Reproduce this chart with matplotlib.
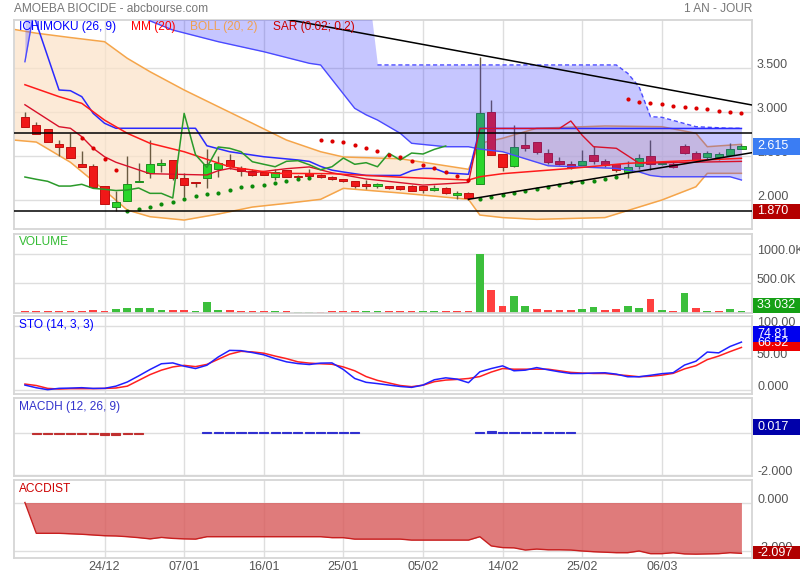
import numpy as np
import matplotlib
matplotlib.use("Agg")
import matplotlib.pyplot as plt
from matplotlib.patches import Rectangle

plt.rcParams['font.family'] = ['Liberation Sans', 'DejaVu Sans']

# ---------------- data ----------------
title = "AMOEBA BIOCIDE - abcbourse.com"
period = "1 AN - JOUR"
date_labels = ['24/12', '07/01', '16/01', '25/01', '05/02', '14/02', '25/02', '06/03']
date_pos = [7, 14, 21, 28, 35, 42, 49, 56]

opens = [2.942, 2.851, 2.805, 2.638, 2.600, 2.410, 2.387, 2.159, 1.917, 1.985,
         2.205, 2.304, 2.402, 2.452, 2.247, 2.205, 2.247, 2.350, 2.452, 2.364,
         2.334, 2.315, 2.262, 2.342, 2.277, 2.304, 2.285, 2.262, 2.239, 2.213,
         2.179, 2.159, 2.159, 2.159, 2.163, 2.154, 2.116, 2.142, 2.055, 2.083,
         2.179, 3.002, 2.524, 2.391, 2.626, 2.661, 2.532, 2.441, 2.410, 2.402,
         2.513, 2.448, 2.410, 2.322, 2.387, 2.501, 2.410, 2.410, 2.618, 2.532,
         2.493, 2.486, 2.513, 2.585]
highs = [2.999, 2.888, 2.805, 2.683, 2.760, 2.558, 2.410, 2.159, 2.106, 2.501,
         2.425, 2.683, 2.464, 2.452, 2.304, 2.205, 2.581, 2.501, 2.524, 2.391,
         2.350, 2.330, 2.350, 2.342, 2.290, 2.350, 2.300, 2.270, 2.245, 2.213,
         2.230, 2.190, 2.165, 2.165, 2.170, 2.160, 2.167, 2.150, 2.106, 2.090,
         3.625, 3.139, 2.524, 2.854, 2.760, 2.661, 2.580, 2.490, 2.440, 2.569,
         2.618, 2.470, 2.410, 2.444, 2.520, 2.683, 2.440, 2.440, 2.640, 2.560,
         2.560, 2.550, 2.653, 2.640]
lows = [2.828, 2.748, 2.657, 2.501, 2.482, 2.379, 2.151, 1.951, 1.878, 1.985,
        2.205, 2.247, 2.322, 2.228, 2.038, 2.151, 2.133, 2.265, 2.350, 2.277,
        2.277, 2.280, 2.230, 2.262, 2.250, 2.273, 2.255, 2.230, 2.205, 2.133,
        2.130, 2.140, 2.125, 2.115, 2.100, 2.076, 2.103, 2.070, 2.015, 2.005,
        2.179, 2.516, 2.334, 2.380, 2.561, 2.524, 2.410, 2.400, 2.350, 2.402,
        2.410, 2.380, 2.315, 2.254, 2.350, 2.342, 2.395, 2.370, 2.520, 2.440,
        2.470, 2.460, 2.501, 2.580]
closes = [2.828, 2.748, 2.657, 2.600, 2.482, 2.379, 2.151, 1.951, 1.977, 2.182,
          2.215, 2.410, 2.421, 2.247, 2.167, 2.190, 2.410, 2.418, 2.391, 2.334,
          2.288, 2.288, 2.315, 2.262, 2.259, 2.273, 2.262, 2.236, 2.213, 2.159,
          2.159, 2.179, 2.133, 2.122, 2.108, 2.114, 2.137, 2.076, 2.076, 2.023,
          2.987, 2.516, 2.372, 2.604, 2.589, 2.550, 2.436, 2.407, 2.379, 2.441,
          2.448, 2.402, 2.345, 2.379, 2.478, 2.407, 2.425, 2.379, 2.532, 2.456,
          2.535, 2.524, 2.577, 2.615]

sar = [np.nan] * 5 + [2.710, 2.596, 2.467, 2.342,
       1.878, 1.894, 1.924, 1.951, 1.977, 2.011, 2.042, 2.065, 2.083, 2.114,
       2.145, 2.163, 2.174, 2.194, 2.216, 2.243, 2.251,
       2.683, 2.672, 2.658, 2.623, 2.596, 2.555, 2.516, 2.493, 2.448, 2.402,
       2.364, 2.323, 2.277, 2.228,
       2.008, 2.031, 2.057, 2.076, 2.103, 2.125, 2.151, 2.171, 2.202, 2.208,
       2.216, 2.239, 2.265,
       3.147, 3.120, 3.108, 3.093, 3.074, 3.063, 3.051, 3.036, 3.017, 3.006, 2.994]

mm_x = [0, 3, 5, 7, 9, 11, 14, 16, 18, 20, 22, 27, 33, 39, 40, 42, 48, 53, 63]
mm_y = [3.313, 3.177, 3.101, 2.910, 2.760, 2.646, 2.550, 2.464, 2.379, 2.342, 2.304,
        2.300, 2.260, 2.228, 2.265, 2.300, 2.360, 2.418, 2.475]

boll_x = [-1, 1, 4, 7, 9, 11, 14, 17, 20, 23, 26, 28, 33, 39, 40, 42, 45, 51, 56, 59, 60, 63]
boll_up = [3.944, 3.900, 3.850, 3.803, 3.614, 3.461, 3.253, 3.063, 2.874, 2.683, 2.550,
           2.490, 2.470, 2.350, 2.646, 2.703, 2.817, 2.843, 2.835, 2.760, 2.607, 2.634]
boll_lo = [2.683, 2.660, 2.430, 2.110, 1.886, 1.810, 1.772, 1.840, 1.920, 1.962, 2.008,
           2.133, 2.080, 2.008, 1.829, 1.800, 1.780, 1.800, 2.000, 2.151, 2.304, 2.304]

tenkan_x = [0, 3, 4, 5, 6, 7, 8, 11, 16, 17, 18, 20, 23, 25, 27, 30, 35, 39, 40, 47, 48, 49, 50, 52, 54, 63]
tenkan_y = [3.085, 2.835, 2.817, 2.721, 2.589, 2.493, 2.430, 2.300, 2.285, 2.334, 2.360,
            2.310, 2.357, 2.377, 2.310, 2.240, 2.170, 2.200, 2.815, 2.815, 2.900, 2.737,
            2.607, 2.589, 2.420, 2.440]
kijun_x = [0, 3, 4, 5, 6, 7, 8, 15, 16, 18, 21, 24, 25, 26, 27, 28, 30, 33, 34, 35, 36, 37, 39, 40, 63]
kijun_y = [4.400, 3.253, 3.245, 3.177, 2.987, 2.874, 2.817, 2.817, 2.618, 2.550, 2.493,
           2.456, 2.440, 2.383, 2.340, 2.319, 2.280, 2.280, 2.334, 2.360, 2.360, 2.310,
           2.293, 2.815, 2.815]
cloud_x = [0, 1, 9, 10, 11, 13, 17, 21, 25, 26, 29, 30, 31, 33, 34, 37, 39, 40, 42, 46,
           52, 53, 54, 55, 56, 59, 62, 63]
cloud_top = [4.6, 4.6, 4.6, 4.6, 4.6, 4.6, 4.6, 4.6, 4.6, 4.6, 4.6, 4.6, 3.538, 3.538,
             3.538, 3.538, 3.538, 3.538, 3.538, 3.538, 3.538, 3.443, 3.290, 2.949, 2.942,
             2.835, 2.817, 2.817]
cloud_low = [3.575, 4.300, 4.350, 4.150, 4.040, 3.936, 3.803, 3.689, 3.557, 3.538, 3.044,
             2.970, 2.911, 2.760, 2.646, 2.607, 2.607, 2.580, 2.550, 2.390, 2.360, 2.340,
             2.320, 2.280, 2.265, 2.265, 2.265, 2.228]

h_levels = [2.76, 1.87]
trend_down = ([14, 63.93], [4.272, 3.082])
trend_up = ([39, 63.93], [2.008, 2.539])

volume = [30, 30, 30, 30, 25, 30, 50, 30, 68, 80, 80, 74, 50, 50, 50, 30, 182, 50, 38, 25,
          25, 25, 30, 32, 20, 20, 20, 25, 32, 32, 25, 25, 32, 25, 32, 30, 25, 25, 25, 32,
          1000, 381, 114, 284, 114, 63, 50, 38, 38, 68, 91, 38, 63, 114, 80, 233, 50, 32, 335, 80,
          30, 30, 63, 33.032]
vol_up = [0, 0, 0, 0, 0, 0, 0, 0, 1, 1, 1, 1, 1, 0, 0, 1, 1, 1, 0, 0,
          0, 0, 1, 0, 1, 1, 0, 0, 0, 0, 1, 1, 0, 0, 0, 1, 1, 0, 0, 0,
          1, 0, 0, 1, 1, 0, 0, 0, 0, 1, 1, 0, 0, 1, 1, 0, 1, 0, 1, 0,
          1, 0, 1, 1]

sto_k = [7.7, 3.5, 0.5, 2.6, 3.0, 3.6, 2.5, 2.6, 6.0, 12.5, 22, 32, 41, 42.3, 37.2, 33.5,
         38.7, 51.6, 61.9, 61.5, 58.5, 55, 49, 44, 41.3, 39.8, 42, 42.3, 32, 18, 12, 10,
         7.7, 5.5, 4.1, 7.7, 16, 19, 17, 11.4, 28.4, 33.5, 37.7, 30, 31, 35, 31.5, 28.4,
         25.8, 25.8, 26.5, 26.9, 24.8, 20.7, 20.7, 23, 25.5, 27, 39, 45, 59.3, 58, 68, 74.81]
sto_d = [9.3, 7, 2.5, 1.5, 2.1, 2.1, 2.1, 2.5, 3.1, 6, 15, 24, 31, 36, 38.5, 36.5,
         40, 48, 56, 60.4, 59.5, 57.5, 53, 49, 44, 42, 41, 40.2, 36, 30, 21, 15,
         11, 7, 5.2, 7.5, 13, 15.5, 16.5, 18, 21, 28, 33.5, 32.5, 32.5, 32.5, 32.5, 30,
         27.5, 26.5, 25.8, 25.8, 24, 22.5, 20.7, 21.5, 23.2, 26, 33, 38, 47.5, 53, 60, 66.5]

macdh = [0, -0.04, -0.04, -0.04, -0.04, -0.04, -0.04, -0.09, -0.09, -0.04, -0.04, 0, 0, 0, 0, 0,
         0.04, 0.04, 0.04, 0.04, 0.04, 0.04, 0.04, 0.04, 0.04, 0.04, 0.04, 0.04, 0.04, 0.04,
         0, 0, 0, 0, 0, 0, 0, 0, 0, 0,
         0.04, 0.10, 0.04, 0.04, 0.04, 0.04, 0.04, 0.04, 0.04,
         0, 0, 0, 0, 0, 0, 0, 0, 0, 0, 0, 0, 0, 0, 0]

accdist = [0, -1.27, -1.27, -1.27, -1.29, -1.31, -1.34, -1.37, -1.38, -1.41, -1.45, -1.50,
           -1.44, -1.48, -1.50, -1.51, -1.41, -1.41, -1.41, -1.41, -1.41, -1.41, -1.41,
           -1.41, -1.41, -1.41, -1.41, -1.45, -1.45, -1.51, -1.51, -1.51, -1.51, -1.51,
           -1.55, -1.55, -1.55, -1.55, -1.55, -1.55, -1.41, -1.79, -1.86, -1.87, -1.96,
           -1.92, -1.95, -1.95, -1.96, -2.00, -2.03, -2.05, -2.07, -2.07, -2.00, -2.11,
           -2.11, -2.07, -2.12, -2.13, -2.12, -2.11, -2.07, -2.097]

# ---------------- layout ----------------
W, H = 800, 580
fig = plt.figure(figsize=(W / 100, H / 100), dpi=100)
fig.patch.set_facecolor('white')
L, R = 14, 752


def rect(top, bottom):
    return [L / W, 1 - bottom / H, (R - L) / W, (bottom - top) / H]


ax_p = fig.add_axes(rect(20, 229))
ax_v = fig.add_axes(rect(234, 313))
ax_s = fig.add_axes(rect(316, 394))
ax_m = fig.add_axes(rect(398, 476))
ax_a = fig.add_axes(rect(480, 558))
axes = [ax_p, ax_v, ax_s, ax_m, ax_a]

GRID = '#dedede'
FRAME = '#d6d6d6'
TXT = '#555555'
XL = (-0.96, 63.93)

for ax in axes:
    ax.set_xlim(*XL)
    for s in ax.spines.values():
        s.set_color(FRAME)
        s.set_linewidth(1.3)
    ax.tick_params(left=False, right=False, bottom=False, top=False,
                   labelleft=False, labelbottom=False)
    for d in date_pos:
        ax.axvline(d, color=GRID, lw=1, zorder=0)

n = len(closes)
idx = np.arange(n)

# ---------- price panel ----------
ax_p.set_ylim(1.670, 4.050)
for g in [2.0, 2.5, 3.0, 3.5]:
    ax_p.axhline(g, color=GRID, lw=1, zorder=0)

ax_p.fill_between(boll_x, boll_lo, boll_up, color='#fbe3c8', alpha=0.72, lw=0, zorder=1)
ax_p.plot(boll_x, boll_up, color='#f5a54a', lw=1.1, zorder=2)
ax_p.plot(boll_x, boll_lo, color='#f5a54a', lw=1.1, zorder=2)

# candles
for i in idx:
    o, h, l, c = opens[i], highs[i], lows[i], closes[i]
    up = c >= o
    ax_p.vlines(i, l, h, color='#6a5a40', lw=1.0, zorder=3)
    b = min(o, c)
    hh = max(abs(c - o), 0.008)
    ax_p.add_patch(Rectangle((i - 0.36, b), 0.72, hh,
                             facecolor='#2bd62b' if up else '#f01818',
                             edgecolor='#1f8f1f' if up else '#c01010',
                             lw=0.7, zorder=4))

# ichimoku cloud
ax_p.fill_between(cloud_x, cloud_low, cloud_top, color='#3333ff', alpha=0.28, lw=0, zorder=5)
ax_p.plot(cloud_x, cloud_low, color='#4a4aff', lw=1.0, zorder=6)
top_arr = np.array(cloud_top)
mask_dash = np.array(cloud_x) >= 31
ax_p.plot(np.array(cloud_x)[mask_dash], top_arr[mask_dash], color='#4a4aff', lw=1.0,
          ls=(0, (3, 2)), zorder=6)

ax_p.plot(kijun_x, kijun_y, color='#2a2aff', lw=1.1, zorder=7)
ax_p.plot(tenkan_x, tenkan_y, color='#d8102a', lw=1.0, zorder=7)
ax_p.plot(mm_x, mm_y, color='#ff1a1a', lw=1.1, zorder=7)
chik = np.array(closes[26:])
ax_p.plot(np.arange(len(chik)), chik, color='#2a9a2a', lw=1.1, zorder=7)

sar_arr = np.array(sar)
cl = np.array(closes)
above = sar_arr > cl
ax_p.scatter(idx[above], sar_arr[above], s=9, color='#dd0000', zorder=8, lw=0)
ax_p.scatter(idx[~above], sar_arr[~above], s=9, color='#0c8a0c', zorder=8, lw=0)

for lv in h_levels:
    ax_p.axhline(lv, color='black', lw=1.1, zorder=9)
ax_p.plot(*trend_down, color='black', lw=1.1, zorder=9)
ax_p.plot(*trend_up, color='black', lw=1.1, zorder=9)

# ---------- volume ----------
ax_v.set_ylim(-5000, 1.341e6)
for g in [5e5, 1e6]:
    ax_v.axhline(g, color=GRID, lw=1, zorder=0)
vol = np.array(volume) * 1000
vcol = ['#3cbf3c' if u else '#ff4040' for u in vol_up]
ax_v.bar(idx, vol, width=0.68, color=vcol, zorder=2)

# ---------- stochastic ----------
ax_s.set_ylim(-6.25, 115.6)
for g in [0, 50, 100]:
    ax_s.axhline(g, color=GRID, lw=1, zorder=0)
ax_s.plot(idx, sto_d, color='#ff2020', lw=1.1, zorder=3)
ax_s.plot(idx, sto_k, color='#2020ff', lw=1.1, zorder=4)

# ---------- MACDH ----------
ax_m.set_ylim(-2.063, 1.705)
for g in [0, -2]:
    ax_m.axhline(g, color=GRID, lw=1, zorder=0)
mh = np.array(macdh)
mcol = ['#c03030' if v < 0 else '#3030d0' for v in mh]
ax_m.bar(idx, mh, width=0.8, color=mcol, edgecolor=mcol,
         lw=[0.8 if v != 0 else 0 for v in mh], zorder=2)

# ---------- ACCDIST ----------
ax_a.set_ylim(-2.289, 0.928)
for g in [0, -2]:
    ax_a.axhline(g, color=GRID, lw=1, zorder=0)
ax_a.fill_between(idx, accdist, 0, color='#d85a5a', alpha=0.8, lw=0, zorder=2)
ax_a.plot(idx, accdist, color='#c81e1e', lw=1.0, zorder=3)

# ---------- texts ----------
FS = 9
FT = 8.6


def fy(ax, v):
    disp = ax.transData.transform((0, v))
    return fig.transFigure.inverted().transform(disp)[1]


def right_label(ax, v, s, dy=3):
    y = fy(ax, v) + dy / H
    fig.text(757 / W, y, s, color=TXT, fontsize=FS, va='center', ha='left')


def value_box(ytop, ybot, s, col):
    fig.patches.append(Rectangle((753 / W, 1 - ybot / H), (W - 753) / W, (ybot - ytop) / H,
                                 transform=fig.transFigure, facecolor=col, edgecolor='none',
                                 zorder=10))
    fig.text(757 / W, 1 - (ytop + ybot) / 2 / H, s, color='white', fontsize=FS,
             va='center', ha='left', zorder=11)


for v, s in [(3.5, '3.500'), (3.0, '3.000'), (2.5, '2.500'), (2.0, '2.000')]:
    right_label(ax_p, v, s)
for v, s in [(1e6, '1000.0K'), (5e5, '500.0K')]:
    right_label(ax_v, v, s)
for v, s in [(100, '100.00'), (50, '50.00'), (0, '0.000')]:
    right_label(ax_s, v, s)
right_label(ax_m, -2, '-2.000')
for v, s in [(0, '0.000'), (-2, '-2.000')]:
    right_label(ax_a, v, s)

value_box(138, 155, '2.615', '#3b7df3')
value_box(204, 219, '1.870', '#b40000')
value_box(298, 313, '33 032', '#15a015')
value_box(334, 351, '66.52', '#ee0000')
value_box(326, 342, '74.81', '#0000ee')
value_box(419, 435, '0.017', '#0000aa')
value_box(546, 559, '-2.097', '#b00000')

for d, s in zip(date_pos, date_labels):
    ax_a.text(d, -0.11, s, transform=ax_a.get_xaxis_transform(), color=TXT,
              fontsize=FS, ha='center', va='center')

fig.text(L / W, 1 - 9 / H, title, color='#777777', fontsize=FT, va='center', ha='left')
fig.text(R / W, 1 - 9 / H, period, color='#777777', fontsize=FT, va='center', ha='right')

ytl = 1 - 27 / H
fig.text(19 / W, ytl, 'ICHIMOKU (26, 9)', color='#0000ff', fontsize=FT, va='center')
fig.text(131 / W, ytl, 'MM (20)', color='#ff0000', fontsize=FT, va='center')
fig.text(190 / W, ytl, 'BOLL (20, 2)', color='#f0a050', fontsize=FT, va='center')
fig.text(273 / W, ytl, 'SAR (0.02; 0.2)', color='#cc0000', fontsize=FT, va='center')
fig.text(19 / W, 1 - 242 / H, 'VOLUME', color='#33bb33', fontsize=FT, va='center')
fig.text(19 / W, 1 - 325 / H, 'STO (14, 3, 3)', color='#0000ff', fontsize=FT, va='center')
fig.text(19 / W, 1 - 407 / H, 'MACDH (12, 26, 9)', color='#3333cc', fontsize=FT, va='center')
fig.text(19 / W, 1 - 489 / H, 'ACCDIST', color='#cc0000', fontsize=FT, va='center')

fig.savefig('out.png', dpi=100)
